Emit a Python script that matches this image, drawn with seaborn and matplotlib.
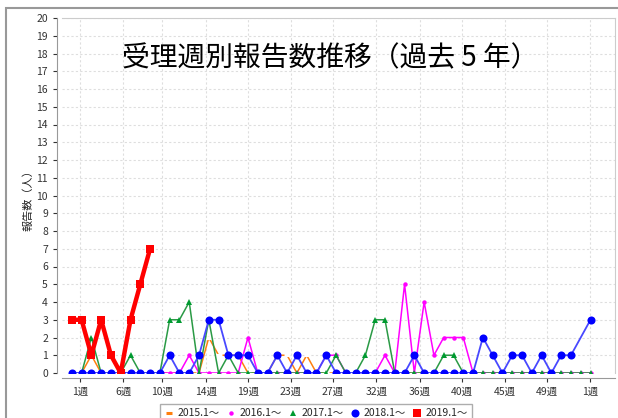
import numpy as np
import pandas as pd
import seaborn as sns
import matplotlib.pyplot as plt
from matplotlib.lines import Line2D
from matplotlib.patches import Rectangle

# weekly report counts (index = week position on the chart)
weeks = list(range(54))
y2015 = [0, 0, 1, 0, 0, 0, 0, 0, 0, 0,
         0, 0, 0, 0, 2, 1, 1, 1, 0, 0,
         0, 1, 1, 0, 1, 0, 0, 0, 0, 0,
         0, 0, 0, 0, 0, 0, 0, 0, 0, 0,
         0, 0, 0, 0, 0, 0, 0, 0, 0, 0,
         0, 0, 0, 0]
y2016 = [0, 0, 0, 0, 0, 0, 0, 0, 0, 0,
         0, 0, 1, 0, 0, 0, 0, 0, 2, 0,
         0, 0, 0, 0, 0, 0, 1, 1, 0, 0,
         0, 0, 1, 0, 5, 0, 4, 1, 2, 2,
         2, 0, 0, 0, 0, 0, 0, 0, 0, 0,
         0, 0, 0, 0]
y2017 = [0, 0, 2, 0, 0, 0, 1, 0, 0, 0,
         3, 3, 4, 0, 3, 0, 1, 0, 0, 0,
         0, 0, 0, 0, 0, 0, 0, 1, 0, 0,
         1, 3, 3, 0, 0, 0, 0, 0, 1, 1,
         0, 0, 0, 0, 0, 0, 0, 0, 0, 0,
         0, 0, 0, 0]
y2018 = [0, 0, 0, 0, 0, 0, 0, 0, 0, 0,
         1, 0, 0, 1, 3, 3, 1, 1, 1, 0,
         0, 1, 0, 1, 0, 0, 1, 0, 0, 0,
         0, 0, 0, 0, 0, 1, 0, 0, 0, 0,
         0, 0, 2, 1, 0, 1, 1, 0, 1, 0,
         1, 1, np.nan, 3]
y2019 = [3, 3, 1, 3, 1, 0, 3, 5, 7]

series_labels = ['2015.1～', '2016.1～', '2017.1～', '2018.1～', '2019.1～']
tick_labels = ['1週', '6週', '10週', '14週', '19週', '23週', '27週',
               '32週', '36週', '40週', '45週', '49週', '1週']
month_start_days = [0, 31, 59, 90, 120, 151, 181, 212, 243, 273, 304, 334, 365]

rows = []
for lab, vals in zip(series_labels, [y2015, y2016, y2017, y2018, y2019]):
    for w, v in zip(weeks, vals):
        rows.append((lab, w, v))
df = pd.DataFrame(rows, columns=['year', 'week', 'count']).dropna()

sns.set_style('white')
plt.rcParams['font.family'] = ['Noto Sans CJK JP', 'DejaVu Sans']

fig = plt.figure(figsize=(6.18, 4.18), dpi=100)
ax = fig.add_axes([62 / 618, 1 - 373 / 418, (615 - 62) / 618, (373 - 18) / 418])

styles = {
    '2015.1～': dict(color='#ff7f0e', marker='_', markersize=5, markeredgewidth=2.2, linewidth=1.1),
    '2016.1～': dict(color='#ff00ff', marker='o', markersize=3.2, markeredgewidth=0, linewidth=1.1),
    '2017.1～': dict(color='#2a9a45', marker='^', markersize=4.5, markeredgewidth=0, linewidth=1.1,
                    markerfacecolor='#009a30'),
    '2018.1～': dict(color='#4848ff', marker='o', markersize=5.8, markeredgewidth=0, linewidth=1.3,
                    markerfacecolor='#0000ff'),
    '2019.1～': dict(color='#ff0000', marker='s', markersize=5.2, markeredgewidth=0, linewidth=3.2),
}
for lab in series_labels:
    sub = df[df['year'] == lab]
    sns.lineplot(data=sub, x='week', y='count', ax=ax, clip_on=True, zorder=3, **styles[lab])

ax.set_xlim(-1.0, 55.5)
ax.set_ylim(0, 20)
ax.set_yticks(range(0, 21))
ticks = [0.82 + d / 7 for d in month_start_days]
ax.set_xticks(ticks)
ax.set_xticklabels(tick_labels)
ax.set_xlabel('')
ax.set_ylabel('')
ax.grid(True, linestyle=(0, (2, 2)), color='#dedede', linewidth=0.8)
ax.tick_params(axis='both', labelsize=7.5, colors='#333333', length=3, width=0.8,
               bottom=True, left=True)
for s in ['left', 'bottom']:
    ax.spines[s].set_position(('outward', 3.6))
    ax.spines[s].set_color('#999999')
for s in ['top', 'right']:
    ax.spines[s].set_color('#cccccc')
    ax.spines[s].set_linewidth(0.8)

fig.text(330 / 618, 1 - 58 / 418, '受理週別報告数推移（過去 5 年）',
         fontsize=20, ha='center', va='center', color='black')
fig.text(28 / 618, 1 - 198 / 418, '報告数（人）', rotation=90,
         fontsize=8, ha='center', va='center', color='#222222')

handles = [Line2D([], [], linestyle='none', **{k: v for k, v in styles[lab].items() if k != 'linewidth'})
           for lab in series_labels]
fig.legend(handles, series_labels, loc='upper center', bbox_to_anchor=(316 / 618, 1 - 399 / 418),
           ncol=5, fontsize=7.5, frameon=True, fancybox=False, edgecolor='#999999',
           handletextpad=0.3, columnspacing=0.6, borderpad=0.4, handlelength=1.0)

fig.patches.append(Rectangle((6 / 618, -0.1), 1.2, 1 - 8 / 418 + 0.1, transform=fig.transFigure,
                             fill=False, edgecolor='#999999', linewidth=1.5))

fig.savefig('out.png', dpi=100)
